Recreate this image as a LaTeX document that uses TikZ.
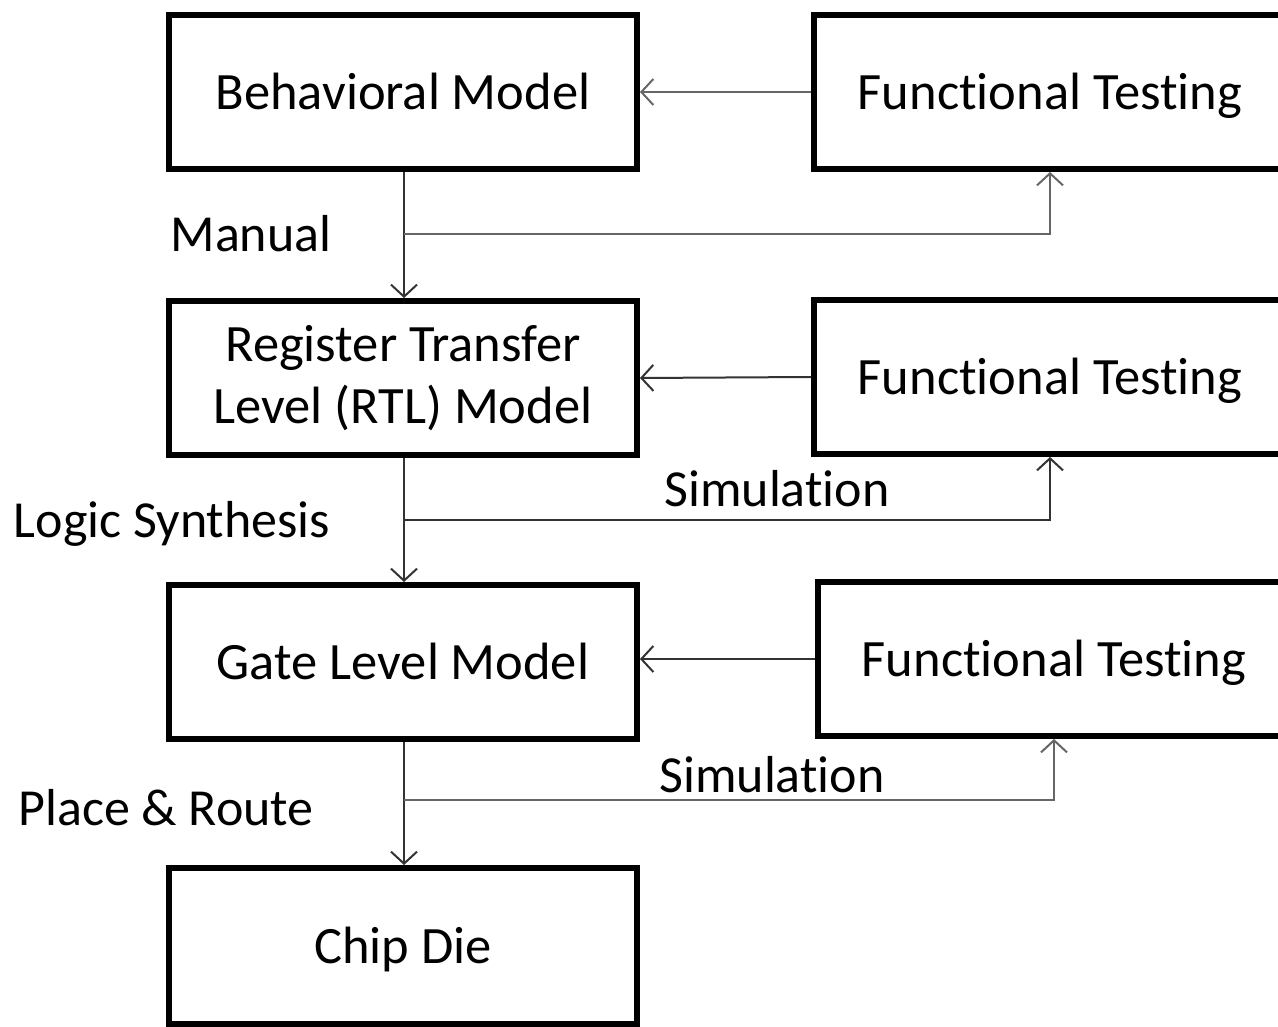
\documentclass[tikz,border=0pt]{standalone}
\usepackage{fontspec}
\setmainfont{Carlito}[Ligatures=NoCommon]
\usetikzlibrary{arrows.meta}
\begin{document}
\begin{tikzpicture}[x=1pt,y=-1pt,
  box/.style={draw, line width=6pt, minimum width=468pt, minimum height=154pt, inner sep=0pt, align=center, font=\fontsize{52.5}{62}\selectfont},
  oneline/.style={text height=35pt, text depth=0pt},
  ftbox/.style={box, oneline, minimum width=472pt},
  conn/.style={line width=2pt, draw=black!80, -{Straight Barb[length=12pt,width=26pt,line width=2pt]}},
  lbl/.style={inner sep=0pt, font=\fontsize{52}{60}\selectfont, text height=34pt, text depth=0pt}]
\useasboundingbox (0,0) rectangle (1278,1027);
\clip (0,0) rectangle (1278,1027);
\fill[white] (0,0) rectangle (1278,1027);
% left column
\node[box, oneline] (beh) at (403,92) {Behavioral Model};
\node[box] (rtl) at (403,378) {Register Transfer\\Level (RTL) Model};
\node[box, oneline] (gate) at (403,662) {Gate Level Model};
\node[box, oneline, minimum height=156pt] (chip) at (403,946) {Chip Die};
% right column
\node[ftbox] (ft1) at (1050,92) {Functional Testing};
\node[ftbox] (ft2) at (1050,377) {Functional Testing};
\node[ftbox] (ft3) at (1054,659) {Functional Testing};
% branch points
\coordinate (m1) at (404,234);
\coordinate (m2) at (404,520);
\coordinate (m3) at (404,800);
% down arrows
\draw[conn] (beh.south -| m1) -- (rtl.north -| m1);
\draw[conn] (rtl.south -| m2) -- (gate.north -| m2);
\draw[conn] (gate.south -| m3) -- (chip.north -| m3);
% feedback to testing
\draw[conn, draw=black!60] (m1) -| (ft1.south);
\draw[conn] (m2) -| (ft2.south);
\draw[conn, draw=black!60] (m3) -| (ft3.south);
% testing back to models
\draw[conn, draw=black!60] (ft1.west) -- (beh.east);
\draw[conn] (ft2.west) -- (rtl.east);
\draw[conn] (ft3.west) -- (gate.east |- ft3.west);
% labels
\node[lbl] (l1) at (251,235) {Manual};
\node[lbl] (l2) at (172,520) {Logic Synthesis};
\node[lbl] (l3) at (777,489) {Simulation};
\node[lbl] (l4) at (166,808) {Place \& Route};
\node[lbl] (l5) at (772,775) {Simulation};
\end{tikzpicture}
\end{document}
